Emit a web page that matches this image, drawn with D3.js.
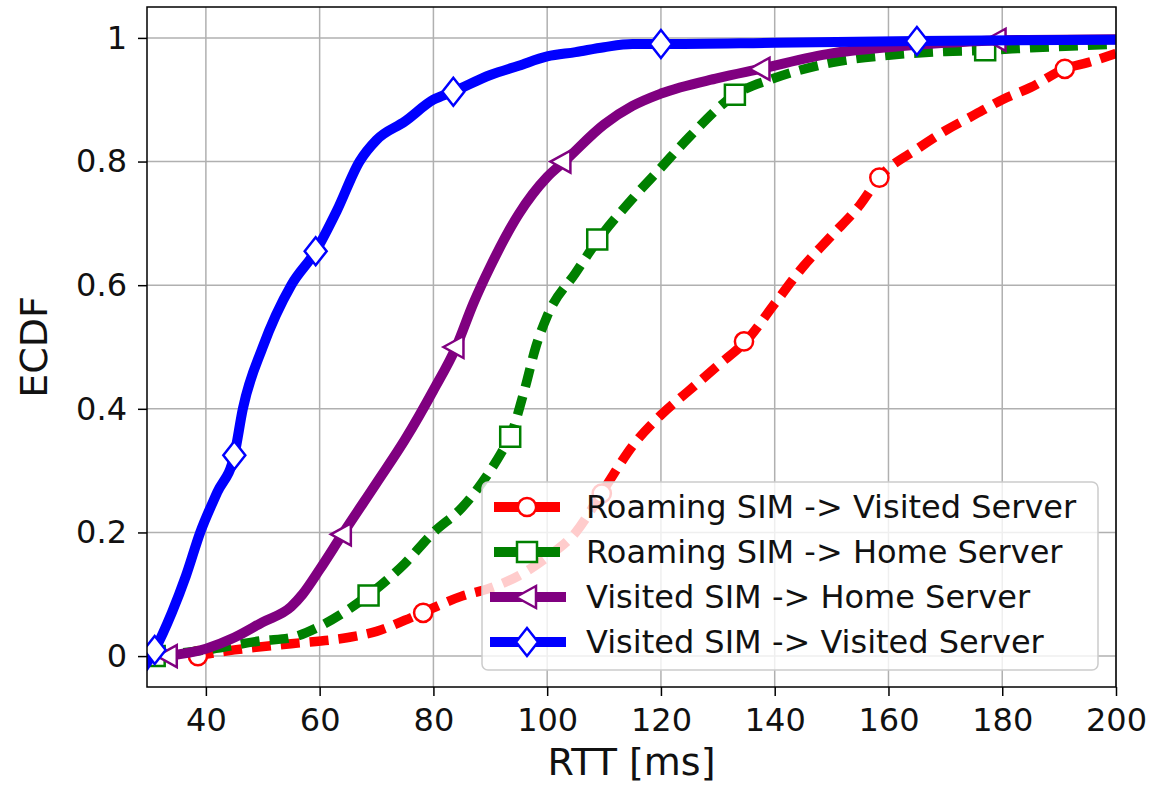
<!DOCTYPE html>
<html>
<head>
<meta charset="utf-8">
<script src="https://cdn.jsdelivr.net/npm/d3@7"></script>
<style>
  body { margin: 0; background: #fff; }
  text { font-family: "DejaVu Sans", sans-serif; }
</style>
</head>
<body>
<svg id="chart"></svg>
<script>
// Axis ticks
const xTicks = [40, 60, 80, 100, 120, 140, 160, 180, 200];
const yTicks = [0, 0.2, 0.4, 0.6, 0.8, 1];

// Series names (legend order)
const seriesNames = [
  "Roaming SIM -> Visited Server",
  "Roaming SIM -> Home Server",
  "Visited SIM -> Home Server",
  "Visited SIM -> Visited Server"
];

// ECDF curves: [RTT, ECDF]
const roamVisited = [[38,0],[45,0.01],[55,0.02],[65,0.03],[70,0.04],[75,0.058],[78,0.07],[85,0.097],[90,0.11],[95,0.13],[100,0.16],[105,0.2],[110,0.27],[115,0.34],[120,0.39],[125,0.43],[130,0.47],[135,0.51],[140,0.57],[145,0.63],[150,0.68],[155,0.73],[158.5,0.775],[165,0.82],[170,0.85],[175,0.875],[180,0.9],[185,0.92],[191,0.95],[195,0.96],[200,0.975]];
const roamHome = [[31,0],[40,0.01],[50,0.025],[55,0.03],[60,0.048],[65,0.075],[68.5,0.098],[75,0.15],[80,0.2],[85,0.24],[90,0.3],[92,0.33],[93.5,0.355],[96,0.43],[98,0.5],[100,0.55],[105,0.62],[109,0.674],[115,0.74],[120,0.79],[125,0.84],[133,0.908],[140,0.935],[150,0.96],[160,0.972],[170,0.978],[177,0.98],[185,0.984],[200,0.99]];
const visHome = [[33,0],[40,0.012],[45,0.03],[50,0.055],[55,0.08],[57,0.1],[60,0.14],[64,0.197],[70,0.28],[75,0.35],[80,0.43],[84,0.5],[87,0.57],[90,0.63],[95,0.715],[100,0.775],[103,0.8],[110,0.86],[115,0.89],[120,0.91],[130,0.935],[137.5,0.95],[150,0.975],[160,0.985],[170,0.992],[179,0.996],[200,0.998]];
const visVisited = [[29,-0.02],[31,0.01],[34,0.07],[36.5,0.13],[39,0.2],[42,0.265],[45,0.325],[46.5,0.4],[50,0.5],[55,0.6],[59.3,0.655],[63,0.72],[67,0.8],[70,0.835],[75,0.865],[80,0.9],[83.5,0.913],[90,0.94],[95,0.955],[100,0.97],[105,0.977],[110,0.985],[115,0.99],[120,0.99],[140,0.992],[165,0.995],[200,0.997]];

// Marker positions
const roamVisitedMarks = [[38.6,0],[78.2,0.07],[109.6,0.263],[134.6,0.509],[158.4,0.774],[191,0.95]];
const roamHomeMarks = [[31,0],[68.6,0.098],[93.5,0.355],[108.8,0.674],[133,0.908],[177,0.98]];
const visHomeMarks = [[33.3,0],[63.9,0.197],[83.7,0.5],[102.5,0.8],[137.5,0.95],[179,0.997]];
const visVisitedMarks = [[31,0.01],[45,0.325],[59.3,0.655],[83.5,0.913],[120,0.99],[165,0.995]];

const W = 1155, H = 785;
const margin = { left: 147, right: 1155 - 1116, top: 7, bottom: 785 - 687 };

const svg = d3.select("#chart").attr("width", W).attr("height", H);

const x = d3.scaleLinear().domain([30, 200]).range([margin.left + 2, W - margin.right]);
const y = d3.scaleLinear().domain([-0.05, 1.05]).range([H - margin.bottom, margin.top]);

// grid
const grid = svg.append("g");
grid.selectAll(".gx").data(xTicks).enter().append("line")
  .attr("x1", d => x(d)).attr("x2", d => x(d))
  .attr("y1", y.range()[0]).attr("y2", y.range()[1])
  .attr("stroke", "#b0b0b0").attr("stroke-width", 1.5);
grid.selectAll(".gy").data(yTicks).enter().append("line")
  .attr("y1", d => y(d)).attr("y2", d => y(d))
  .attr("x1", margin.left).attr("x2", x.range()[1])
  .attr("stroke", "#b0b0b0").attr("stroke-width", 1.5);

svg.append("defs").append("clipPath").attr("id", "clip")
  .append("rect")
  .attr("x", margin.left).attr("y", y.range()[1])
  .attr("width", x.range()[1] - margin.left)
  .attr("height", y.range()[0] - y.range()[1]);

const line = d3.line().x(d => x(d[0])).y(d => y(d[1])).curve(d3.curveMonotoneX);

const series = [
  { data: roamVisited, marks: roamVisitedMarks, color: "#ff0000", dash: "19,10", marker: "circle" },
  { data: roamHome, marks: roamHomeMarks, color: "#008000", dash: "19,10", marker: "square" },
  { data: visHome, marks: visHomeMarks, color: "#800080", dash: null, marker: "triangle" },
  { data: visVisited, marks: visVisitedMarks, color: "#0000ff", dash: null, marker: "diamond" }
];

function markerPath(type) {
  if (type === "circle") return d3.symbol(d3.symbolCircle, 260)();
  if (type === "square") return "M-10,-10H10V10H-10Z";
  if (type === "triangle") return "M-11,0L9,-11L9,11Z";
  return "M0,-14L11,0L0,14L-11,0Z";
}

const plot = svg.append("g").attr("clip-path", "url(#clip)");
series.forEach(s => {
  plot.append("path")
    .attr("d", line(s.data))
    .attr("fill", "none")
    .attr("stroke", s.color)
    .attr("stroke-width", s.dash ? 9.5 : 10)
    .attr("stroke-dasharray", s.dash)
    .attr("stroke-linejoin", "round");
  plot.selectAll(null).data(s.marks).enter().append("path")
    .attr("d", markerPath(s.marker))
    .attr("transform", d => `translate(${x(d[0])},${y(d[1])})`)
    .attr("fill", "#fff")
    .attr("stroke", s.color)
    .attr("stroke-width", 2.5);
});

// axes
const xAxis = svg.append("g")
  .attr("transform", `translate(0,${y.range()[0]})`)
  .call(d3.axisBottom(x).tickValues(xTicks).tickSize(9).tickPadding(12));
const yAxis = svg.append("g")
  .attr("transform", `translate(${margin.left},0)`)
  .call(d3.axisLeft(y).tickValues(yTicks).tickSize(9).tickPadding(11).tickFormat(d => d === 0 || d === 1 ? d : d3.format(".1f")(d)));
[xAxis, yAxis].forEach(a => {
  a.select(".domain").remove();
  a.selectAll("line").attr("stroke", "#000").attr("stroke-width", 1.5);
  a.selectAll("text").attr("font-size", 32).attr("fill", "#111").attr("font-family", "DejaVu Sans");
});

// frame
svg.append("rect")
  .attr("x", margin.left).attr("y", y.range()[1])
  .attr("width", x.range()[1] - margin.left)
  .attr("height", y.range()[0] - y.range()[1])
  .attr("fill", "none").attr("stroke", "#000").attr("stroke-width", 1.5);

// axis labels
svg.append("text")
  .attr("x", (margin.left + x.range()[1]) / 2).attr("y", 775)
  .attr("text-anchor", "middle").attr("font-size", 38).attr("fill", "#111").text("RTT [ms]");
svg.append("text")
  .attr("transform", `translate(47,${(y.range()[0] + y.range()[1]) / 2}) rotate(-90)`)
  .attr("text-anchor", "middle").attr("font-size", 38).attr("fill", "#111").text("ECDF");

// legend
const lg = svg.append("g").attr("transform", "translate(482,482)");
lg.append("rect")
  .attr("width", 616).attr("height", 188).attr("rx", 6)
  .attr("fill", "#fff").attr("fill-opacity", 0.8)
  .attr("stroke", "#cccccc").attr("stroke-width", 1.5);
series.forEach((s, i) => {
  const g = lg.append("g").attr("transform", `translate(0,${25 + i * 45})`);
  g.append("line").attr("x1", s.dash ? 12 : 8).attr("x2", s.dash ? 78 : 84).attr("y1", 0).attr("y2", 0)
    .attr("stroke", s.color).attr("stroke-width", 10);
  g.append("path").attr("d", markerPath(s.marker))
    .attr("transform", "translate(45,0)")
    .attr("fill", "#fff").attr("stroke", s.color).attr("stroke-width", 2.5);
  g.append("text").attr("x", 104).attr("y", 11)
    .attr("font-size", 32).attr("fill", "#111").text(seriesNames[i]);
});
</script>
</body>
</html>
